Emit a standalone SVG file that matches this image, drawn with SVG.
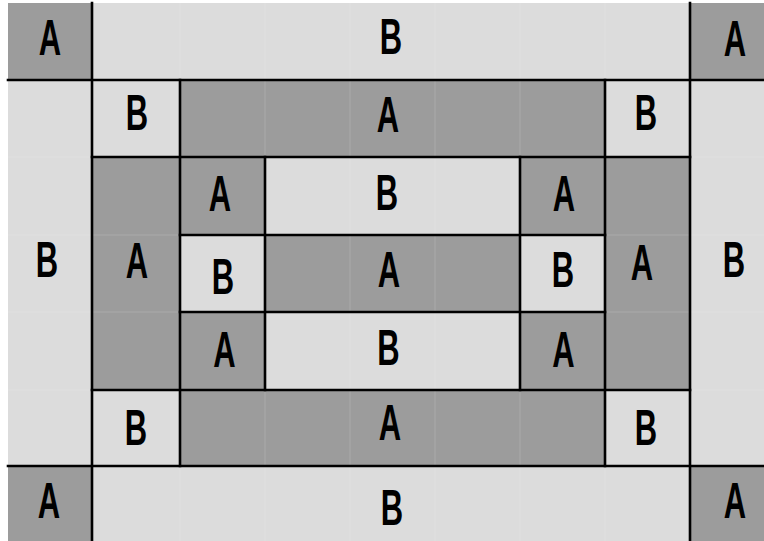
<svg xmlns="http://www.w3.org/2000/svg" width="764" height="541" viewBox="0 0 764 541">
<style>
.d{fill:#9c9c9c}
.l{fill:#dcdcdc}
.g{stroke:#ffffff;stroke-opacity:0.14;stroke-width:1;fill:none}
.b{stroke:#000;stroke-width:2.6;fill:none;stroke-linecap:square}
text{font-family:"Liberation Sans",Arial,sans-serif;font-weight:bold;font-size:50px;fill:#000;text-anchor:middle}
</style>
<rect x="0" y="0" width="764" height="541" fill="#ffffff"/>
<g id="cells">
<g id="n1"><rect class="d" x="8" y="3" width="84" height="77"/><text transform="translate(50,55) scale(0.62,1)">A</text></g>
<g id="n2"><rect class="l" x="92" y="3" width="598" height="77"/><text transform="translate(391,54) scale(0.62,1)">B</text></g>
<g id="n3"><rect class="d" x="690" y="3" width="74" height="77"/><text transform="translate(735,56) scale(0.62,1)">A</text></g>
<g id="n4"><rect class="l" x="8" y="80" width="84" height="386"/><text transform="translate(47,277) scale(0.62,1)">B</text></g>
<g id="n5"><rect class="l" x="690" y="80" width="74" height="386"/><text transform="translate(734,277) scale(0.62,1)">B</text></g>
<g id="n6"><rect class="l" x="92" y="80" width="88" height="77"/><text transform="translate(137,130) scale(0.62,1)">B</text></g>
<g id="n7"><rect class="d" x="180" y="80" width="425" height="77"/><text transform="translate(388,132) scale(0.62,1)">A</text></g>
<g id="n8"><rect class="l" x="605" y="80" width="85" height="77"/><text transform="translate(646,130) scale(0.62,1)">B</text></g>
<g id="n9"><rect class="d" x="92" y="157" width="88" height="233"/><text transform="translate(137,278) scale(0.62,1)">A</text></g>
<g id="n10"><rect class="d" x="605" y="157" width="85" height="233"/><text transform="translate(642,280) scale(0.62,1)">A</text></g>
<g id="n11"><rect class="d" x="180" y="157" width="85" height="78"/><text transform="translate(220,211) scale(0.62,1)">A</text></g>
<g id="n12"><rect class="l" x="265" y="157" width="255" height="78"/><text transform="translate(387,210) scale(0.62,1)">B</text></g>
<g id="n13"><rect class="d" x="520" y="157" width="85" height="78"/><text transform="translate(564,211) scale(0.62,1)">A</text></g>
<g id="n14"><rect class="l" x="180" y="235" width="85" height="77"/><text transform="translate(223,294) scale(0.62,1)">B</text></g>
<g id="n15"><rect class="d" x="265" y="235" width="255" height="77"/><text transform="translate(389,287) scale(0.62,1)">A</text></g>
<g id="n16"><rect class="l" x="520" y="235" width="85" height="77"/><text transform="translate(563,287) scale(0.62,1)">B</text></g>
<g id="n17"><rect class="d" x="180" y="312" width="85" height="78"/><text transform="translate(224.5,367) scale(0.62,1)">A</text></g>
<g id="n18"><rect class="l" x="265" y="312" width="255" height="78"/><text transform="translate(388.5,365) scale(0.62,1)">B</text></g>
<g id="n19"><rect class="d" x="520" y="312" width="85" height="78"/><text transform="translate(563.5,367) scale(0.62,1)">A</text></g>
<g id="n20"><rect class="l" x="92" y="390" width="88" height="76"/><text transform="translate(136,445) scale(0.62,1)">B</text></g>
<g id="n21"><rect class="d" x="180" y="390" width="425" height="76"/><text transform="translate(390,440) scale(0.62,1)">A</text></g>
<g id="n22"><rect class="l" x="605" y="390" width="85" height="76"/><text transform="translate(646,445) scale(0.62,1)">B</text></g>
<g id="n23"><rect class="d" x="8" y="466" width="84" height="75"/><text transform="translate(49,518) scale(0.62,1)">A</text></g>
<g id="n24"><rect class="l" x="92" y="466" width="598" height="75"/><text transform="translate(392,525) scale(0.62,1)">B</text></g>
<g id="n25"><rect class="d" x="690" y="466" width="74" height="75"/><text transform="translate(735,518) scale(0.62,1)">A</text></g>
</g>
<g id="grid" class="g">
<path d="M180,3V541M265,3V541M350,3V541M435,3V541M520,3V541M605,3V541M8,157H764M8,235H764M8,312H764M8,390H764"/>
</g>
<g id="connectors" class="b">
<path d="M92,3V541M690,3V541M8,80H764M8,466H764"/>
<path d="M180,80V466M605,80V466M92,157H690M92,390H690"/>
<path d="M265,157V390M520,157V390M180,235H605M180,312H605"/>
</g>
</svg>
